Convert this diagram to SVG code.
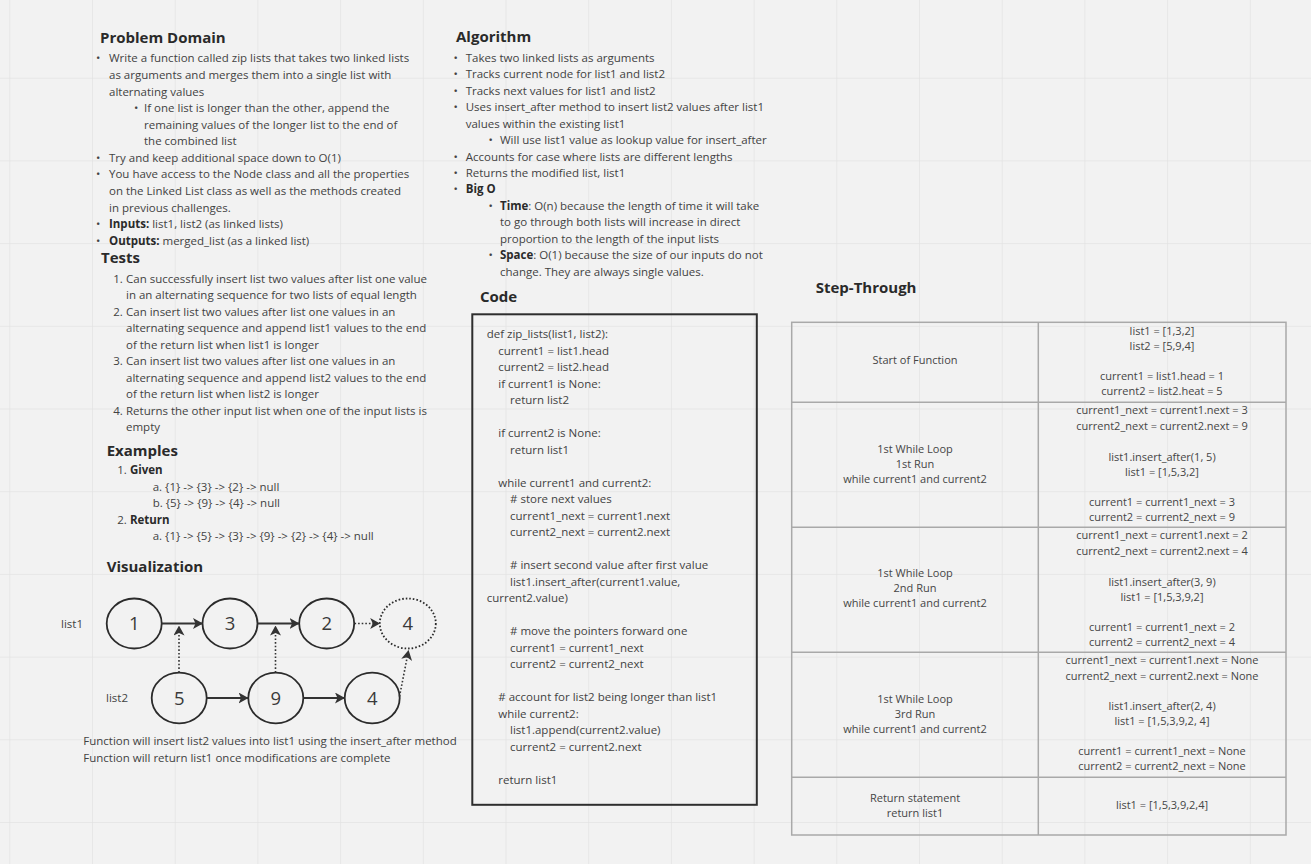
<svg xmlns="http://www.w3.org/2000/svg" width="1311" height="864" viewBox="0 0 1311 864">
<defs>
<pattern id="grid" patternUnits="userSpaceOnUse" x="9.3" y="-5" width="82.7" height="82.7">
<path d="M0,0 H82.7 M0,0 V82.7" fill="none" stroke="#e3e3e3" stroke-width="1.5"/>
</pattern>
<marker id="ah" viewBox="0 0 10 11" refX="9.5" refY="5.5" markerWidth="10" markerHeight="11" markerUnits="userSpaceOnUse" orient="auto">
<path d="M0,0 L10,5.5 L0,11 L2.5,5.5 z" fill="#333"/>
</marker>
<style>
text{font-family:"Open Sans","Liberation Sans",sans-serif;}
.h{font-size:15px;font-weight:700;fill:#2a2a2a}
.t{font-size:11.5px;fill:#424242}
.b{font-weight:700;fill:#2a2a2a}
.c{font-size:11px;fill:#454545;text-anchor:middle}
.n{font-size:18.5px;fill:#3a3a3a;text-anchor:middle}
.node{fill:none;stroke:#2b2b2b;stroke-width:1.8}
.dotnode{fill:none;stroke:#2b2b2b;stroke-width:1.8;stroke-dasharray:1.6 2}
.ln{fill:none;stroke:#333;stroke-width:2}
.dl{fill:none;stroke:#333;stroke-width:1.6;stroke-dasharray:1.6 2}
.tbl{fill:none;stroke:#a9a9a9;stroke-width:1.5}
</style>
</defs>
<rect width="1311" height="864" fill="#f2f2f2"/>
<rect width="1311" height="864" fill="url(#grid)"/>

<g id="problem-domain">
<text class="h" x="100" y="43.3">Problem Domain</text>
<g class="t">
<text x="96" y="62.3">•</text><text x="109" y="62.3">Write a function called zip lists that takes two linked lists</text>
<text x="109" y="78.9">as arguments and merges them into a single list with</text>
<text x="109" y="95.5">alternating values</text>
<text x="134" y="112">•</text><text x="144" y="112">If one list is longer than the other, append the</text>
<text x="144" y="128.6">remaining values of the longer list to the end of</text>
<text x="144" y="145.2">the combined list</text>
<text x="96" y="161.8">•</text><text x="109" y="161.8">Try and keep additional space down to O(1)</text>
<text x="96" y="178.4">•</text><text x="109" y="178.4">You have access to the Node class and all the properties</text>
<text x="109" y="195">on the Linked List class as well as the methods created</text>
<text x="109" y="211.6">in previous challenges.</text>
<text x="96" y="228.2">•</text><text x="109" y="228.2"><tspan class="b">Inputs:</tspan> list1, list2 (as linked lists)</text>
<text x="96" y="244.8">•</text><text x="109" y="244.8"><tspan class="b">Outputs:</tspan> merged_list (as a linked list)</text>
</g>
</g>

<g id="tests">
<text class="h" x="101" y="263.3">Tests</text>
<g class="t">
<text x="113.3" y="282.5">1.</text><text x="126" y="282.5">Can successfully insert list two values after list one value</text>
<text x="126" y="299">in an alternating sequence for two lists of equal length</text>
<text x="113.3" y="315.5">2.</text><text x="126" y="315.5">Can insert list two values after list one values in an</text>
<text x="126" y="332">alternating sequence and append list1 values to the end</text>
<text x="126" y="348.5">of the return list when list1 is longer</text>
<text x="113.3" y="365">3.</text><text x="126" y="365">Can insert list two values after list one values in an</text>
<text x="126" y="381.5">alternating sequence and append list2 values to the end</text>
<text x="126" y="398">of the return list when list2 is longer</text>
<text x="113.3" y="414.5">4.</text><text x="126" y="414.5">Returns the other input list when one of the input lists is</text>
<text x="126" y="431">empty</text>
</g>
</g>

<g id="examples">
<text class="h" x="106.7" y="455.7">Examples</text>
<g class="t">
<text x="117.3" y="473.7">1. <tspan class="b">Given</tspan></text>
<text x="152.7" y="490.5">a. {1} -&gt; {3} -&gt; {2} -&gt; null</text>
<text x="152.7" y="507.1">b. {5} -&gt; {9} -&gt; {4} -&gt; null</text>
<text x="117.3" y="523.7">2. <tspan class="b">Return</tspan></text>
<text x="152.7" y="540.3">a. {1} -&gt; {5} -&gt; {3} -&gt; {9} -&gt; {2} -&gt; {4} -&gt; null</text>
</g>
</g>

<g id="visualization">
<text class="h" x="106.7" y="571.7">Visualization</text>
<text class="t" x="61" y="628.3">list1</text>
<text class="t" x="106" y="702">list2</text>
<text class="t" x="83.3" y="745">Function will insert list2 values into list1 using the insert_after method</text>
<text class="t" x="83.3" y="761.7">Function will return list1 once modifications are complete</text>
</g>

<g id="node-l1-1"><ellipse class="node" cx="134.2" cy="623.5" rx="27.5" ry="25"/><text class="n" x="134.2" y="630">1</text></g>
<g id="node-l1-3"><ellipse class="node" cx="230" cy="623.5" rx="27.5" ry="25"/><text class="n" x="230" y="630">3</text></g>
<g id="node-l1-2"><ellipse class="node" cx="326.7" cy="623.5" rx="27.5" ry="25"/><text class="n" x="326.7" y="630">2</text></g>
<g id="node-l1-4"><ellipse class="dotnode" cx="407.8" cy="623.5" rx="28" ry="25"/><text class="n" x="407.8" y="630">4</text></g>
<g id="node-l2-5"><ellipse class="node" cx="179.2" cy="698" rx="27.5" ry="25.3"/><text class="n" x="179.2" y="704.5">5</text></g>
<g id="node-l2-9"><ellipse class="node" cx="275.8" cy="698" rx="27.5" ry="25.3"/><text class="n" x="275.8" y="704.5">9</text></g>
<g id="node-l2-4"><ellipse class="node" cx="372.2" cy="698" rx="27.5" ry="25.3"/><text class="n" x="372.2" y="704.5">4</text></g>

<g id="connectors">
<line class="ln" x1="162" y1="623.5" x2="202.5" y2="623.5" marker-end="url(#ah)"/>
<line class="ln" x1="257.8" y1="623.5" x2="299" y2="623.5" marker-end="url(#ah)"/>
<line class="dl" x1="354.5" y1="623.5" x2="379.7" y2="623.5" marker-end="url(#ah)"/>
<line class="ln" x1="207" y1="698" x2="248" y2="698" marker-end="url(#ah)"/>
<line class="ln" x1="303.5" y1="698" x2="344.5" y2="698" marker-end="url(#ah)"/>
<line class="dl" x1="179" y1="672.5" x2="179" y2="626" marker-end="url(#ah)"/>
<line class="dl" x1="275.5" y1="672.5" x2="275.5" y2="626" marker-end="url(#ah)"/>
<line class="dl" x1="399.5" y1="696.5" x2="408.5" y2="650.5" marker-end="url(#ah)"/>
</g>

<g id="algorithm">
<text class="h" x="456" y="42.3">Algorithm</text>
<g class="t">
<text x="453.5" y="61.7">•</text><text x="465.7" y="61.7">Takes two linked lists as arguments</text>
<text x="453.5" y="78.2">•</text><text x="465.7" y="78.2">Tracks current node for list1 and list2</text>
<text x="453.5" y="94.7">•</text><text x="465.7" y="94.7">Tracks next values for list1 and list2</text>
<text x="453.5" y="111.2">•</text><text x="465.7" y="111.2">Uses insert_after method to insert list2 values after list1</text>
<text x="465.7" y="127.7">values within the existing list1</text>
<text x="488.5" y="144.2">•</text><text x="500" y="144.2">Will use list1 value as lookup value for insert_after</text>
<text x="453.5" y="160.7">•</text><text x="465.7" y="160.7">Accounts for case where lists are different lengths</text>
<text x="453.5" y="177.2">•</text><text x="465.7" y="177.2">Returns the modified list, list1</text>
<text x="453.5" y="193.2">•</text><text x="465.7" y="193.2" class="b">Big O</text>
<text x="488.5" y="210.2">•</text><text x="500" y="210.2"><tspan class="b">Time</tspan>: O(n) because the length of time it will take</text>
<text x="500" y="226.4">to go through both lists will increase in direct</text>
<text x="500" y="242.8">proportion to the length of the input lists</text>
<text x="488.5" y="259.3">•</text><text x="500" y="259.3"><tspan class="b">Space</tspan>: O(1) because the size of our inputs do not</text>
<text x="500" y="275.7">change. They are always single values.</text>
</g>
</g>

<g id="code">
<text class="h" x="480" y="301.7">Code</text>
<rect x="472.3" y="314.3" width="284.5" height="490.5" fill="none" stroke="#2e2e2e" stroke-width="2"/>
<g class="t">
<text x="486.7" y="338.3">def zip_lists(list1, list2):</text>
<text x="498.3" y="354.8">current1 = list1.head</text>
<text x="498.3" y="371.3">current2 = list2.head</text>
<text x="498.3" y="387.8">if current1 is None:</text>
<text x="510" y="404.3">return list2</text>
<text x="498.3" y="437.3">if current2 is None:</text>
<text x="510" y="453.8">return list1</text>
<text x="498.3" y="486.8">while current1 and current2:</text>
<text x="510" y="503.3"># store next values</text>
<text x="510" y="519.8">current1_next = current1.next</text>
<text x="510" y="536.3">current2_next = current2.next</text>
<text x="510" y="569.3"># insert second value after first value</text>
<text x="510" y="585.8">list1.insert_after(current1.value,</text>
<text x="486.7" y="602.3">current2.value)</text>
<text x="510" y="635.3"># move the pointers forward one</text>
<text x="510" y="651.8">current1 = current1_next</text>
<text x="510" y="668.3">current2 = current2_next</text>
<text x="498.3" y="701.3"># account for list2 being longer than list1</text>
<text x="498.3" y="717.8">while current2:</text>
<text x="510" y="734.3">list1.append(current2.value)</text>
<text x="510" y="750.8">current2 = current2.next</text>
<text x="498.3" y="783.8">return list1</text>
</g>
</g>

<g id="step-through">
<text class="h" x="815.7" y="292.7">Step-Through</text>
<rect class="tbl" x="791.7" y="322.3" width="494.3" height="512.7"/>
<line class="tbl" x1="1038.3" y1="322.3" x2="1038.3" y2="835"/>
<line class="tbl" x1="791.7" y1="402.3" x2="1286" y2="402.3"/>
<line class="tbl" x1="791.7" y1="527.3" x2="1286" y2="527.3"/>
<line class="tbl" x1="791.7" y1="652.3" x2="1286" y2="652.3"/>
<line class="tbl" x1="791.7" y1="777.3" x2="1286" y2="777.3"/>
</g>

<g id="row-start" class="c">
<text x="915" y="364.3">Start of Function</text>
<text x="1162" y="335">list1 = [1,3,2]</text>
<text x="1162" y="350">list2 = [5,9,4]</text>
<text x="1162" y="380">current1 = list1.head = 1</text>
<text x="1162" y="395.3">current2 = list2.heat = 5</text>
</g>
<g id="row-run1" class="c">
<text x="915" y="452.7">1st While Loop</text>
<text x="915" y="467.7">1st Run</text>
<text x="915" y="482.7">while current1 and current2</text>
<text x="1162" y="414.3">current1_next = current1.next = 3</text>
<text x="1162" y="429.5">current2_next = current2.next = 9</text>
<text x="1162" y="460.5">list1.insert_after(1, 5)</text>
<text x="1162" y="475.7">list1 = [1,5,3,2]</text>
<text x="1162" y="505.7">current1 = current1_next = 3</text>
<text x="1162" y="520.7">current2 = current2_next = 9</text>
</g>
<g id="row-run2" class="c">
<text x="915" y="577.3">1st While Loop</text>
<text x="915" y="592.3">2nd Run</text>
<text x="915" y="607.3">while current1 and current2</text>
<text x="1162" y="539.3">current1_next = current1.next = 2</text>
<text x="1162" y="554.5">current2_next = current2.next = 4</text>
<text x="1162" y="585.5">list1.insert_after(3, 9)</text>
<text x="1162" y="600.7">list1 = [1,5,3,9,2]</text>
<text x="1162" y="630.7">current1 = current1_next = 2</text>
<text x="1162" y="645.7">current2 = current2_next = 4</text>
</g>
<g id="row-run3" class="c">
<text x="915" y="702.7">1st While Loop</text>
<text x="915" y="717.7">3rd Run</text>
<text x="915" y="732.7">while current1 and current2</text>
<text x="1162" y="664.3">current1_next = current1.next = None</text>
<text x="1162" y="679.5">current2_next = current2.next = None</text>
<text x="1162" y="709.5">list1.insert_after(2, 4)</text>
<text x="1162" y="724.7">list1 = [1,5,3,9,2, 4]</text>
<text x="1162" y="755.3">current1 = current1_next = None</text>
<text x="1162" y="770.3">current2 = current2_next = None</text>
</g>
<g id="row-return" class="c">
<text x="915" y="801.7">Return statement</text>
<text x="915" y="816.7">return list1</text>
<text x="1162" y="809.3">list1 = [1,5,3,9,2,4]</text>
</g>
</svg>
